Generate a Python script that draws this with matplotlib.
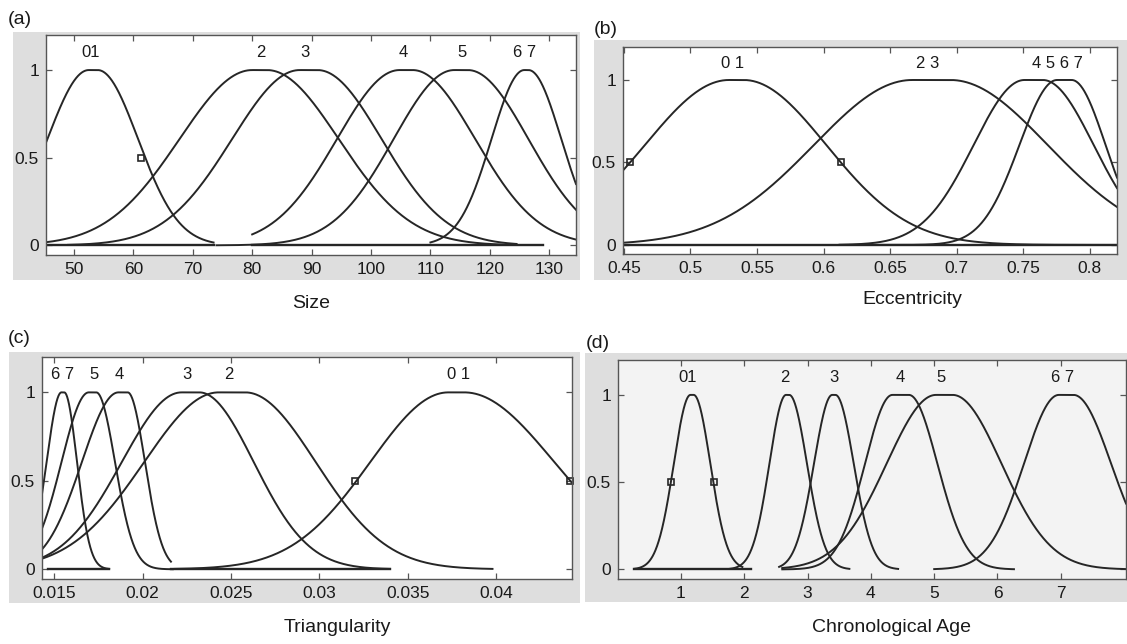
import numpy as np
import matplotlib
matplotlib.use("Agg")
import matplotlib.pyplot as plt

plt.rcParams['font.family'] = ['Liberation Sans', 'DejaVu Sans']

W, H = 1127, 644

# ---------------- Panel (a): Size ----------------
a_labels = ['01', '2', '3', '4', '5', '6 7']
a_label_x = [52.8, 81.4, 88.9, 105.4, 115.3, 125.9]
a_c1 = [52.5, 80.0, 88.0, 104.8, 114.0, 125.8]
a_c2 = [54.0, 82.5, 91.0, 107.0, 116.3, 126.5]
a_hwL = [8.2, 14.4, 13.4, 12.4, 12.0, 6.5]
a_hwR = [8.0, 14.2, 12.7, 12.4, 12.0, 6.5]
a_lo = [45.3, 45.3, 49.0, 80.0, 74.0, 110.0]
a_hi = [73.5, 123.5, 124.5, 134.5, 134.5, 134.5]
a_marks = [61.3]
a_base = [(45.3, 73.5), (80.0, 129.0)]
a_xticks = [50, 60, 70, 80, 90, 100, 110, 120, 130]
a_xticklabels = ['50', '60', '70', '80', '90', '100', '110', '120', '130']

# ---------------- Panel (b): Eccentricity ----------------
b_labels = ['0 1', '2 3', '4 5 6 7']
b_label_x = [0.532, 0.678, 0.7755]
b_curve_c1 = [0.529, 0.6667, 0.751, 0.7755]
b_curve_c2 = [0.540, 0.6953, 0.7647, 0.7864]
b_hwL = [0.0744, 0.087, 0.045, 0.0333]
b_hwR = [0.073, 0.086, 0.045, 0.030]
b_lo = [0.4493, 0.4493, 0.612, 0.62]
b_hi = [0.8205, 0.8205, 0.8205, 0.8205]
b_marks = [0.4546, 0.613]
b_base = [(0.4493, 0.8205)]
b_xticks = [0.45, 0.5, 0.55, 0.6, 0.65, 0.7, 0.75, 0.8]
b_xticklabels = ['0.45', '0.5', '0.55', '0.6', '0.65', '0.7', '0.75', '0.8']

# ---------------- Panel (c): Triangularity ----------------
c_labels = ['6 7', '5', '4', '3', '2', '0 1']
c_label_x = [0.01548, 0.01726, 0.01867, 0.0225, 0.02485, 0.0379]
c_c1 = [0.01540, 0.01695, 0.01863, 0.0222, 0.0243, 0.0373]
c_c2 = [0.01556, 0.01737, 0.01915, 0.0232, 0.0258, 0.0382]
c_hwL = [0.00099, 0.00182, 0.00244, 0.00398, 0.00496, 0.0052]
c_hwR = [0.00085, 0.00125, 0.00115, 0.00363, 0.0047, 0.0060]
c_lo = [0.0143, 0.0143, 0.0143, 0.0143, 0.0143, 0.0218]
c_hi = [0.0181, 0.0217, 0.0216, 0.0340, 0.0398, 0.0443]
c_marks = [0.03204, 0.0442]
c_base = [(0.01464, 0.0181), (0.0216, 0.0340)]
c_xticks = [0.015, 0.02, 0.025, 0.03, 0.035, 0.04]
c_xticklabels = ['0.015', '0.02', '0.025', '0.03', '0.035', '0.04']

# ---------------- Panel (d): Chronological Age ----------------
d_labels = ['01', '2', '3', '4', '5', '6 7']
d_label_x = [1.11, 2.64, 3.41, 4.47, 5.11, 7.03]
d_c1 = [1.15, 2.66, 3.39, 4.34, 5.03, 6.97]
d_c2 = [1.20, 2.71, 3.44, 4.60, 5.29, 7.20]
d_hwL = [0.31, 0.31, 0.34, 0.51, 0.92, 0.65]
d_hwR = [0.31, 0.33, 0.34, 0.53, 0.91, 0.70]
d_lo = [0.26, 1.77, 2.55, 2.60, 2.60, 5.00]
d_hi = [1.97, 3.66, 4.43, 6.26, 8.03, 8.03]
d_marks = [0.84, 1.514]
d_base = [(0.26, 2.11)]
d_xticks = [1, 2, 3, 4, 5, 6, 7]
d_xticklabels = ['1', '2', '3', '4', '5', '6', '7']

yticks = [0, 0.5, 1]
yticklabels = ['0', '0.5', '1']

K = np.sqrt(2 * np.log(2))


def gauss2(x, c1, c2, hl, hr):
    sl, sr = hl / K, hr / K
    y = np.ones_like(x)
    m = x < c1
    y[m] = np.exp(-(x[m] - c1) ** 2 / (2 * sl ** 2))
    m = x > c2
    y[m] = np.exp(-(x[m] - c2) ** 2 / (2 * sr ** 2))
    return y


fig = plt.figure(figsize=(W / 100, H / 100), dpi=100)
fig.patch.set_facecolor('white')

LINE = '#262626'
GRAY = '#dedede'


def px_rect(l, t, r, b):
    return [l / W, 1 - b / H, (r - l) / W, (b - t) / H]


def ftext(x, y, s, **kw):
    fig.text(x / W, 1 - y / H, s, **kw)


def panel(rect, grey, xlim, c1, c2, hwl, hwr, lo, hi, labels, label_x,
          marks, base, xticks, xticklabels, xlabel, xlabel_pos, tag, tag_pos,
          face='white'):
    bg = fig.add_axes(px_rect(*grey), zorder=-5)
    bg.set_facecolor(GRAY)
    bg.set_xticks([])
    bg.set_yticks([])
    for sp in bg.spines.values():
        sp.set_visible(False)
    ax = fig.add_axes(px_rect(*rect), zorder=1)
    ax.set_facecolor(face)
    for i in range(len(c1)):
        x = np.linspace(lo[i], hi[i], 600)
        ax.plot(x, gauss2(x, c1[i], c2[i], hwl[i], hwr[i]), color=LINE, lw=1.4)
    for (u, v) in base:
        ax.plot([u, v], [0, 0], color=LINE, lw=1.7)
    for mx in marks:
        ax.plot([mx], [0.5], marker='s', ms=5, mfc='none', mec=LINE, mew=1.2,
                clip_on=False)
    for s, lx in zip(labels, label_x):
        ax.text(lx, 1.10, s, ha='center', va='center', fontsize=12, color='#1a1a1a')
    ax.set_xlim(*xlim)
    ax.set_ylim(-0.055, 1.2)
    ax.set_xticks(xticks)
    ax.set_xticklabels(xticklabels)
    ax.set_yticks(yticks)
    ax.set_yticklabels(yticklabels)
    ax.tick_params(direction='in', length=4, width=0.9, top=True, right=True,
                   labelsize=12.5, colors='#555', labelcolor='#1a1a1a', pad=5)
    for sp in ax.spines.values():
        sp.set_color('#555')
        sp.set_linewidth(1.0)
    ftext(xlabel_pos[0], xlabel_pos[1], xlabel, ha='center', va='center',
          fontsize=14, color='#1a1a1a')
    ftext(tag_pos[0], tag_pos[1], tag, ha='left', va='center', fontsize=14,
          color='#1a1a1a')
    return ax


panel((46, 35, 576, 255), (13, 32, 580, 280), (45.3, 134.5),
      a_c1, a_c2, a_hwL, a_hwR, a_lo, a_hi, a_labels, a_label_x, a_marks,
      a_base, a_xticks, a_xticklabels, 'Size', (311, 303), '(a)', (8, 20))

panel((623, 47, 1117, 254), (594, 40, 1127, 280), (0.4493, 0.8205),
      b_curve_c1, b_curve_c2, b_hwL, b_hwR, b_lo, b_hi, b_labels, b_label_x,
      b_marks, b_base, b_xticks, b_xticklabels, 'Eccentricity', (912, 300),
      '(b)', (594, 29))

panel((42, 357, 572, 579), (9, 352, 580, 603), (0.0143, 0.0443),
      c_c1, c_c2, c_hwL, c_hwR, c_lo, c_hi, c_labels, c_label_x, c_marks,
      c_base, c_xticks, c_xticklabels, 'Triangularity', (337, 628), '(c)', (8, 338))

panel((618, 360, 1126, 579), (585, 353, 1127, 602), (0.005, 8.03),
      d_c1, d_c2, d_hwL, d_hwR, d_lo, d_hi, d_labels, d_label_x, d_marks,
      d_base, d_xticks, d_xticklabels, 'Chronological Age', (891, 628),
      '(d)', (586, 344), face='#f3f3f3')

fig.savefig('out.png', dpi=100)
